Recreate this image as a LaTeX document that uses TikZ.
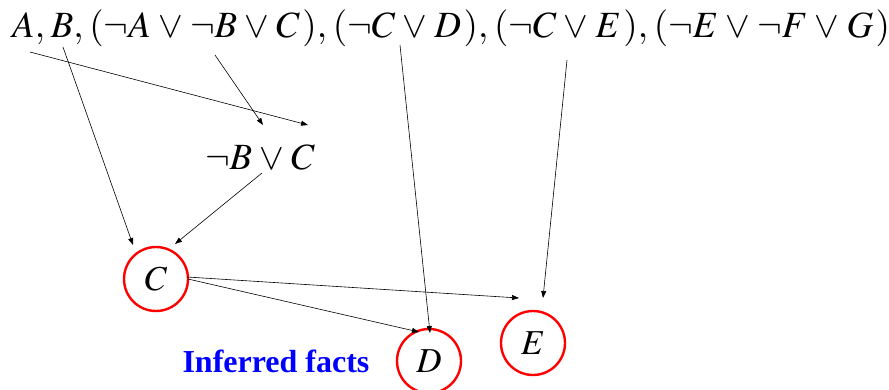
\documentclass[tikz,border=0pt]{standalone}
\usepackage{mathptmx}
\usepackage{fontspec}
\setmainfont{Liberation Serif}
\usetikzlibrary{arrows.meta}
\newcommand{\cm}{,\mkern0.8mu}
\newcommand{\rp}{\mkern1.2mu)}
\newcommand{\vv}{\mkern1mu\vee\mkern1mu}
\begin{document}
\begin{tikzpicture}[x=1pt,y=-1pt,
  big/.style={font=\fontsize{37}{40}\selectfont, inner sep=0pt},
  fact/.style={circle, draw=red, line width=2.4pt, minimum size=64pt, inner sep=0pt, font=\fontsize{35}{38}\selectfont},
  conn/.style={-{Triangle[length=7pt,width=5pt]}, line width=0.6pt},
  note/.style={font=\fontsize{32}{36}\selectfont\bfseries, text=blue, inner sep=0pt}]
\useasboundingbox (0,0) rectangle (889,389);
\node[big, anchor=base west] (top) at (12,37) {$A\cm B\cm (\neg A \vv \neg B \vv C\rp\cm (\neg C \vv D\rp\cm (\neg C \vv E\rp\cm (\neg E \vv \neg F \vv G\rp$};
\node[big] (bc) at (260,157) {$\neg B \vv C$};
\node[fact] (C) at (156,279) {$C$};
\node[fact] (D) at (429,361) {$D$};
\node[fact] (E) at (533,343) {$E$};
\node[note] (inf) at (276,361) {Inferred facts};
% start/end coordinates
\coordinate (sA) at (30,52);
\coordinate (sB) at (63,47);
\coordinate (sK) at (215,55);
\coordinate (sD) at (400,45);
\coordinate (sE) at (567,60);
\coordinate (bcL) at (308,125);
\coordinate (bcR) at (263,125);
\coordinate (bcB) at (262,173);
\coordinate (cT) at (133,245);
\coordinate (cTR) at (175,244);
\coordinate (cR1) at (187,277);
\coordinate (cR2) at (188,279);
\coordinate (eL) at (519,298);
\coordinate (dT1) at (419,332);
\coordinate (dT2) at (430,333);
\coordinate (eT) at (543,298);
\draw[conn] (sA) -- (bcL);
\draw[conn] (sK) -- (bcR);
\draw[conn] (sB) -- (cT);
\draw[conn] (bcB) -- (cTR);
\draw[conn] (cR1) -- (eL);
\draw[conn] (cR2) -- (dT1);
\draw[conn] (sD) -- (dT2);
\draw[conn] (sE) -- (eT);
\end{tikzpicture}
\end{document}
